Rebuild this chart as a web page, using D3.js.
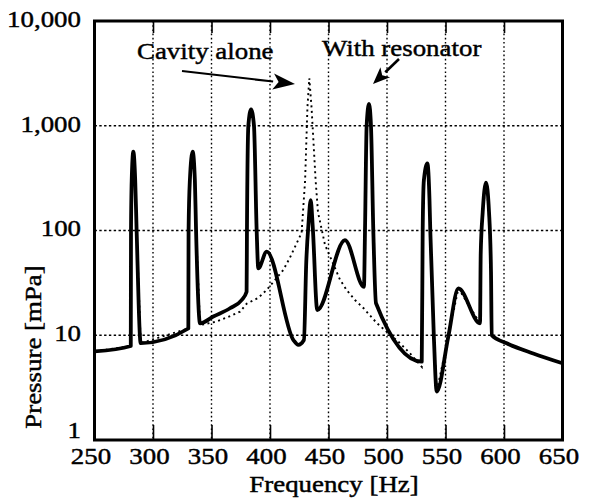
<!DOCTYPE html>
<html>
<head>
<meta charset="utf-8">
<script src="https://cdn.jsdelivr.net/npm/d3@7"></script>
<style>
  html, body { margin: 0; padding: 0; background: #fff; }
  svg { display: block; }
  svg text { font-family: "Liberation Serif", "Times New Roman", Times, serif; fill: #000; stroke: #000; stroke-width: 0.45px; }
</style>
</head>
<body>
<div id="chart"></div>
<script>
// ---- data ----
const xTicks = [250, 300, 350, 400, 450, 500, 550, 600, 650];
const yTicks = [1, 10, 100, 1000, 10000];
const xLabel = "Frequency [Hz]";
const yLabel = "Pressure [mPa]";
const seriesNames = ["Cavity alone", "With resonator"];

// With resonator (solid thick line): frequency [Hz], pressure [mPa]
const resFreq = [250, 281, 281.2, 281.8, 283.2, 284.8, 286, 289.5,
  330.2, 330.4, 331.5, 333.9, 335.8, 336.8, 340.2, 351.5, 365.8, 375.8, 380,
  380.3, 381.5, 383.8, 386.3, 388.6, 390, 397.2, 420, 424.2, 429,
  431, 433, 434.8, 436.5, 440.4, 464.1, 480.3,
  481.2, 482.6, 484.6, 486.3, 488.3, 490.6,
  529.7, 530.5, 531.5, 534.5, 536.3, 537, 540, 542.5, 552.4, 561, 579.5,
  580.1, 581.8, 584.6, 587.2, 588.9, 589.5, 602.3, 625, 650];
const resVal = [7.0, 7.9, 100, 300, 565, 300, 100, 8.4,
  11.6, 100, 300, 565, 300, 100, 13.0, 15.1, 18.1, 21.7, 26,
  100, 1000, 1435, 1000, 100, 43.5, 62.8, 9.0, 8.1, 9.0,
  50, 120, 195, 110, 17.4, 81, 29,
  100, 1000, 1614, 1000, 100, 20.2,
  5.6, 100, 300, 438, 200, 100, 10, 2.9, 9.7, 28, 13,
  60, 150, 286, 150, 40, 10, 8.4, 6.7, 5.4];

// Cavity alone (dotted line)
const cavFreq = [250, 281, 281.2, 281.8, 283.2, 284.8, 286, 289.5,
  330.2, 330.4, 331.5, 333.9, 335.8, 336.8, 340.2, 354.4, 364.4, 374.4, 380,
  389.8, 397, 411.4, 417, 427, 430, 432, 433.6, 435.5, 439, 441, 447,
  459.8, 465.5, 472.6, 479.8, 491.2, 499.7, 511.1, 519.7, 529.7,
  530.5, 531.5, 534.5, 536.3, 537, 540, 542.5, 552.4, 561, 579.5,
  580.1, 581.8, 584.6, 587.2, 588.9, 589.5, 602.3, 625, 650];
const cavVal = [7.0, 7.9, 100, 300, 565, 300, 100, 8.4,
  11.6, 100, 300, 565, 300, 100, 12.5, 13.5, 15, 16.8, 20,
  22.7, 27, 42, 55, 95, 300, 1500, 2838, 1500, 300, 150, 73,
  34, 27, 21.7, 18.2, 13.1, 10.8, 8.4, 6.7, 5.0,
  100, 300, 438, 200, 100, 10, 2.9, 9.7, 28, 13,
  60, 150, 286, 150, 40, 10, 8.4, 6.7, 5.4];

// ---- drawing ----
const W = 591, H = 500;
const pL = 94.5, pR = 562.5, pT = 21, pB = 440;
const SX = 1.12;
const FONT = '"Liberation Serif", "Times New Roman", Times, serif';

const svg = d3.select("#chart").append("svg").attr("width", W).attr("height", H)
  .style("font-family", FONT);

const x = d3.scaleLinear().domain([250, 650]).range([pL, pR]);
const y = d3.scaleLog().domain([1, 10000]).range([pB, pT]);

// grid (dotted)
const grid = svg.append("g");
grid.selectAll("line.vx").data(xTicks.filter(d => d > 250 && d < 650)).join("line")
  .attr("x1", d => x(d)).attr("x2", d => x(d)).attr("y1", pT).attr("y2", pB)
  .attr("stroke", "#000").attr("stroke-width", 1.4).attr("stroke-dasharray", "1.6,2.6");
grid.selectAll("line.hy").data(yTicks.filter(d => d > 1 && d < 10000)).join("line")
  .attr("x1", pL).attr("x2", pR).attr("y1", d => y(d)).attr("y2", d => y(d))
  .attr("stroke", "#000").attr("stroke-width", 1.4).attr("stroke-dasharray", "2.4,2.4");

// inner ticks bottom and top
svg.append("g").attr("transform", `translate(0,${pB})`)
  .call(d3.axisBottom(x).tickValues(xTicks).tickSizeInner(-15).tickSizeOuter(0).tickFormat(""))
  .call(g => g.select(".domain").remove())
  .call(g => g.selectAll("line").attr("stroke-width", 1.6));
svg.append("g").attr("transform", `translate(0,${pT})`)
  .call(d3.axisTop(x).tickValues(xTicks).tickSizeInner(-12).tickSizeOuter(0).tickFormat(""))
  .call(g => g.select(".domain").remove())
  .call(g => g.selectAll("line").attr("stroke-width", 1.6));

// tick labels
const xAx = svg.append("g").attr("transform", `translate(-4,${pB})`)
  .call(d3.axisBottom(x).tickValues(xTicks).tickSize(0).tickPadding(6).tickFormat(d3.format("d")));
xAx.select(".domain").remove();
xAx.attr("font-family", null).attr("font-size", null);
xAx.selectAll("text").style("font-family", FONT).attr("font-size", 24).attr("dy", "0.71em")
  .attr("transform", `scale(${SX},1)`)
  .attr("x", 0).attr("y", 7);

const yAx = svg.append("g").attr("transform", `translate(81,0)`)
  .call(d3.axisLeft(y).tickValues(yTicks).tickSize(0).tickPadding(0).tickFormat(d3.format(",")));
yAx.select(".domain").remove();
yAx.attr("font-family", null).attr("font-size", null);
yAx.selectAll("text").style("font-family", FONT).attr("font-size", 24)
  .attr("x", 0).attr("dy", d => d === 1 ? "-0.12em" : "0.22em")
  .attr("transform", `scale(${SX},1)`)
  .attr("text-anchor", "end");

// axis titles
svg.append("text").attr("transform", `translate(334,492) scale(${SX},1)`)
  .attr("text-anchor", "middle").attr("font-size", 24).text(xLabel);
svg.append("text").attr("transform", `translate(41,347) rotate(-90) scale(${SX},1)`)
  .attr("text-anchor", "middle").attr("font-size", 24).text(yLabel);

// lines
const lineLin = d3.line().x(d => x(d[0])).y(d => y(d[1])).curve(d3.curveLinear);
const lineSmooth = d3.line().x(d => x(d[0])).y(d => y(d[1])).curve(d3.curveMonotoneX);
const cavData = cavFreq.map((f, i) => [f, cavVal[i]]);
const resData = resFreq.map((f, i) => [f, resVal[i]]);

svg.append("path").datum(cavData).attr("d", lineLin)
  .attr("fill", "none").attr("stroke", "#000").attr("stroke-width", 1.9)
  .attr("stroke-dasharray", "2,3.5");
svg.append("path").datum(resData).attr("d", lineSmooth)
  .attr("fill", "none").attr("stroke", "#000").attr("stroke-width", 3.8)
  .attr("stroke-linejoin", "round");

// frame
svg.append("rect").attr("x", pL).attr("y", pT)
  .attr("width", pR - pL).attr("height", pB - pT)
  .attr("fill", "none").attr("stroke", "#000").attr("stroke-width", 3);

// annotations
svg.append("text").attr("transform", `translate(137,59) scale(${SX},1)`)
  .attr("font-size", 24).text(seriesNames[0]);
svg.append("text").attr("transform", `translate(322,56) scale(${SX},1)`)
  .attr("font-size", 24).text(seriesNames[1]);

function arrow(x1, y1, x2, y2, headLen, headW, sw) {
  const ang = Math.atan2(y2 - y1, x2 - x1);
  const bx = x2 - headLen * Math.cos(ang), by = y2 - headLen * Math.sin(ang);
  svg.append("line").attr("x1", x1).attr("y1", y1).attr("x2", bx).attr("y2", by)
    .attr("stroke", "#000").attr("stroke-width", sw);
  const px = -Math.sin(ang), py = Math.cos(ang);
  const nx = x2 - headLen * 0.75 * Math.cos(ang), ny = y2 - headLen * 0.75 * Math.sin(ang);
  const p = [[x2, y2], [bx + px * headW, by + py * headW], [nx, ny], [bx - px * headW, by - py * headW]];
  svg.append("path").attr("d", "M" + p.map(q => q.join(",")).join("L") + "Z").attr("fill", "#000");
}
arrow(182, 71, 295, 84, 22, 8, 2.2);
arrow(399, 59, 373, 84, 17, 7, 2.6);
</script>
</body>
</html>
